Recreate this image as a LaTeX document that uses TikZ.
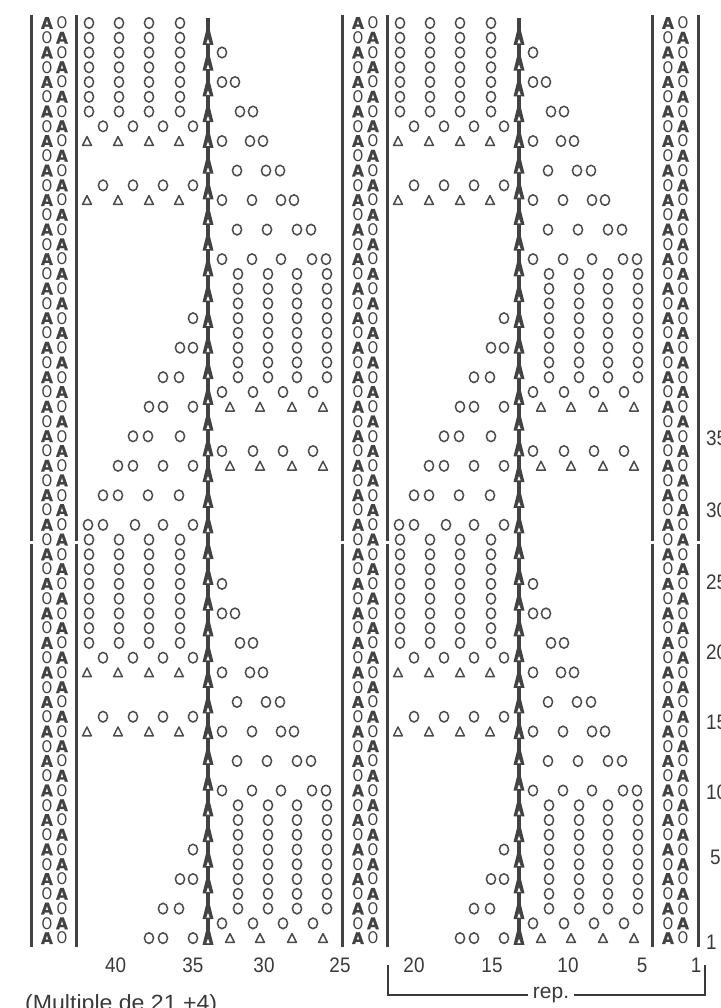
\documentclass[tikz,border=0pt]{standalone}
\usepackage{fontspec}
\setmainfont{Liberation Sans}
\newfontfamily\dejab{DejaVu Sans}
\newfontfamily\heavyA{DejaVu Sans}[FakeBold=1.2]
\definecolor{symc}{HTML}{4C4C4C}
\definecolor{linec}{HTML}{424242}
\definecolor{txtc}{HTML}{3A3A3A}
\tikzset{
  sym/.style={draw=symc, line width=1.5pt},
  bord/.style={draw=linec, line width=3pt},
  spineline/.style={draw=linec, line width=3.8pt},
  edgepair/.style={inner sep=0pt, text=linec, font=\fontsize{16}{16}\dejab},
  lbl/.style={inner sep=0pt, text=txtc, font=\fontsize{21}{21}\selectfont},
  brk/.style={draw=txtc, line width=2pt}
}
\newcommand\kbA{\scalebox{0.95}[1]{\heavyA\bfseries A}}
\newcommand\kbO{\scalebox{0.85}[1]{O}}
\newcommand\kcirc[2]{\draw[sym] (#1,#2) ellipse[x radius=4.6, y radius=5.3];}
\newcommand\ktri[2]{\draw[sym,line join=round] (#1,#2) ++(-4.4,4.3) -- ++(4.4,-8.8) -- ++(4.4,8.8) -- cycle;}
\newcommand\kspA[2]{\fill[linec] (#1,#2) ++(-5.5,7) -- ++(3.5,-14) -- ++(4,0) -- ++(3.5,14) -- cycle;
  \filldraw[fill=white,draw=linec,line width=0.8pt] (#1,#2) ++(-2.4,5.8) -- ++(2.4,-6.4) -- ++(2.4,6.4) -- cycle;}
\newcommand\krowc[3]{\foreach \rr in {#1}{\pgfmathsetmacro\yy{23+(\rr-1)*14.76}\foreach \xx in {#2}{\kcirc{\xx+#3}{\yy}}}}
\newcommand\krowt[3]{\foreach \rr in {#1}{\pgfmathsetmacro\yy{23+(\rr-1)*14.76}\foreach \xx in {#2}{\ktri{\xx+#3}{\yy}}}}
\newcommand\kborder[1]{\foreach \rr in {1,...,63}{\pgfmathsetmacro\yy{23+(\rr-1)*14.76}%
  \ifodd\rr\relax \node[edgepair] at (#1+7.2,\yy) {\kbA\hspace{3.75pt}\kbO};%
  \else \node[edgepair] at (#1+7.75,\yy) {\kbO\hspace{3.75pt}\kbA};\fi}}
\newcommand\kvline[1]{\draw[bord] (#1,15) -- (#1,541); \draw[bord] (#1,543.5) -- (#1,947);}
\newcommand\kpanel[1]{%
  \draw[spineline] (208+#1,18) -- (208+#1,945);
  \foreach \ii in {0,...,35}{\pgfmathsetmacro\yy{38+\ii*25.71}\kspA{208+#1}{\yy}}
  \krowc{1,2,3,4,5,6,7,36,37,38,39,40,41,42,43}{89,119,149,180}{#1}
  \krowc{8,12,44,48}{103,133,163,193}{#1}
  \krowt{9,13,45,49}{87,118,149,179}{#1}
  \krowc{3,39}{222}{#1}
  \krowc{5,41}{222,235}{#1}
  \krowc{7,43}{240,253}{#1}
  \krowc{9,45}{222,250,263}{#1}
  \krowc{11,47}{237,266,280}{#1}
  \krowc{13,49}{222,252,281,294}{#1}
  \krowc{15,51}{237,267,297,311}{#1}
  \krowc{17,53}{222,252,281,312,326}{#1}
  \krowc{18,19,20,21,22,23,24,25,54,55,56,57,58,59,60,61}{238,268,297,327}{#1}
  \krowc{26,30,62}{222,253,283,313}{#1}
  \krowt{27,31,63}{230,260,292,323}{#1}
  \krowc{21,57}{193}{#1}
  \krowc{23,59}{180,193}{#1}
  \krowc{25,61}{163,179}{#1}
  \krowc{27,63}{149,163,193}{#1}
  \krowc{29}{133,148,180}{#1}
  \krowc{31}{118,133,163,193}{#1}
  \krowc{33}{103,118,148,179}{#1}
  \krowc{35}{88,103,135,163,193}{#1}
}
\begin{document}
\begin{tikzpicture}[x=1pt,y=-1pt]
\useasboundingbox (0,0) rectangle (720,1008);
\clip (0,0) rectangle (720,1008);
\fill[white] (0,0) rectangle (720,1008);
% border lines
\kvline{31}\kvline{76}\kvline{342}\kvline{387}\kvline{652}\kvline{698}
% edge stitches
\kborder{47}\kborder{358}\kborder{668}
% two repeat panels
\kpanel{0}
\kpanel{311}
% column numbers
\node[lbl,anchor=base] (c40) at (115.7,972) {\scalebox{0.9}[1]{40}};
\node[lbl,anchor=base] (c35) at (193,972) {\scalebox{0.9}[1]{35}};
\node[lbl,anchor=base] (c30) at (264,972) {\scalebox{0.9}[1]{30}};
\node[lbl,anchor=base] (c25) at (340,972) {\scalebox{0.9}[1]{25}};
\node[lbl,anchor=base] (c20) at (414,972) {\scalebox{0.9}[1]{20}};
\node[lbl,anchor=base] (c15) at (492,972) {\scalebox{0.9}[1]{15}};
\node[lbl,anchor=base] (c10) at (568,972) {\scalebox{0.9}[1]{10}};
\node[lbl,anchor=base] (c5) at (642,972) {\scalebox{0.9}[1]{5}};
\node[lbl,anchor=base] (c1) at (696,972) {\scalebox{0.9}[1]{1}};
% row numbers
\node[lbl,anchor=base west] (r35) at (706,445) {\scalebox{0.9}[1]{35}};
\node[lbl,anchor=base west] (r30) at (706,517) {\scalebox{0.9}[1]{30}};
\node[lbl,anchor=base west] (r25) at (706,589) {\scalebox{0.9}[1]{25}};
\node[lbl,anchor=base west] (r20) at (706,659) {\scalebox{0.9}[1]{20}};
\node[lbl,anchor=base west] (r15) at (706,729) {\scalebox{0.9}[1]{15}};
\node[lbl,anchor=base west] (r10) at (706,799) {\scalebox{0.9}[1]{10}};
\node[lbl,anchor=base west] (r5) at (710,864) {\scalebox{0.9}[1]{5}};
\node[lbl,anchor=base west] (r1) at (706,949) {\scalebox{0.9}[1]{1}};
% repeat bracket
\coordinate (bl) at (388,965);
\coordinate (br) at (705,965);
\node[lbl,anchor=base,fill=white,inner xsep=5pt] (rep) at (551,998) {rep.};
\draw[brk] (bl) |- (rep.west);
\draw[brk] (br) |- (rep.east);
% caption
\node[lbl,anchor=base west,font=\fontsize{22}{22}\selectfont] (mult) at (25,1010) {\scalebox{1.05}[1]{(Multiple de 21 +4)}};
\end{tikzpicture}
\end{document}
